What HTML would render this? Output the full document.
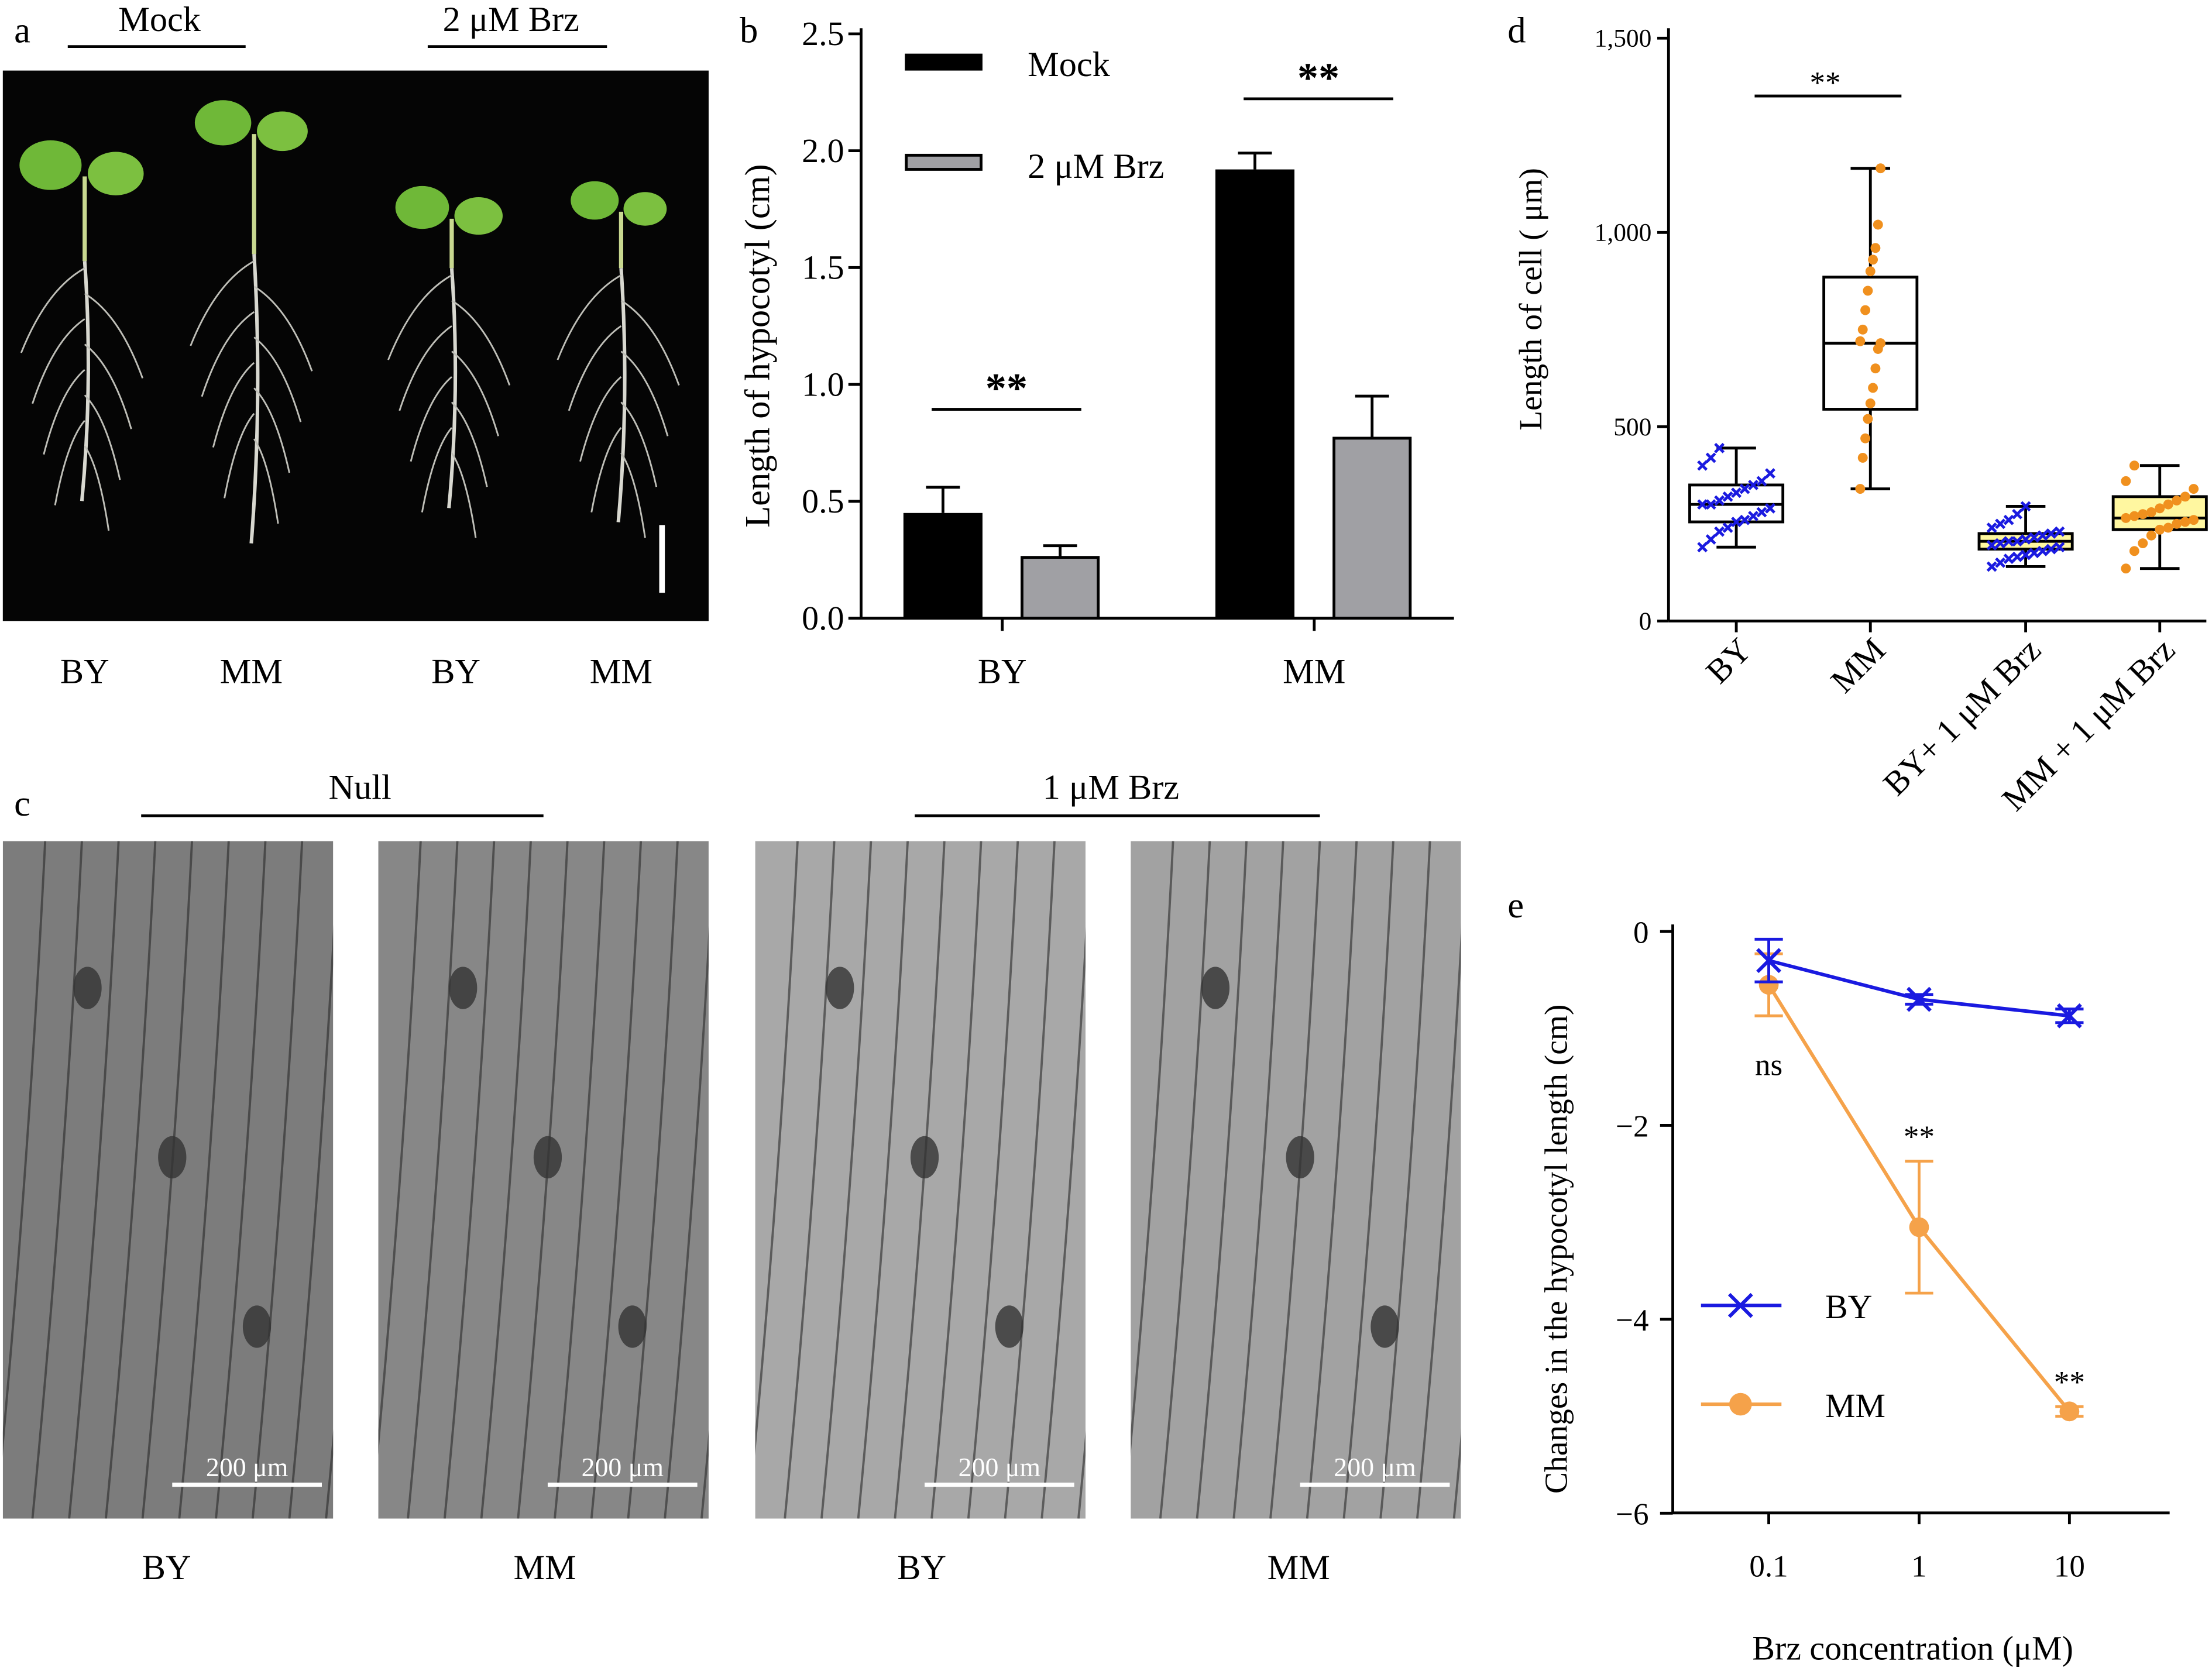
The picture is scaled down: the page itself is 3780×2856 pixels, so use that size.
<!DOCTYPE html>
<html><head><meta charset="utf-8">
<style>
html,body{margin:0;padding:0;background:#fff;}
svg{display:block;font-family:"Liberation Serif",serif;}
text{font-family:"Liberation Serif",serif;fill:#000;}
</style></head>
<body>
<svg id="fig" width="3780" height="2856" viewBox="0 0 1567 1184" preserveAspectRatio="none" font-family="Liberation Serif, serif" xmlns="http://www.w3.org/2000/svg">
<defs>
<clipPath id="c0"><rect x="2" y="596" width="234" height="480"/></clipPath>
<clipPath id="c1"><rect x="268" y="596" width="234" height="480"/></clipPath>
<clipPath id="c2"><rect x="535" y="596" width="234" height="480"/></clipPath>
<clipPath id="c3"><rect x="801" y="596" width="234" height="480"/></clipPath>
</defs>
<rect width="1567" height="1184" fill="#fff"/>
<g>
<text x="10" y="30" font-size="26">a</text>
<text x="113" y="22" font-size="25" text-anchor="middle">Mock</text>
<line x1="48" y1="33" x2="174" y2="33" stroke="#000" stroke-width="2"/>
<text x="362" y="22" font-size="25" text-anchor="middle">2 μM Brz</text>
<line x1="303" y1="33" x2="430" y2="33" stroke="#000" stroke-width="2"/>
<rect x="2" y="50" width="500" height="390" fill="#050505"/>
<g id="plants"></g>
<line x1="469" y1="372" x2="469" y2="420" stroke="#fff" stroke-width="4"/>
<text x="60" y="484" font-size="25" text-anchor="middle">BY</text>
<text x="178" y="484" font-size="25" text-anchor="middle">MM</text>
<text x="323" y="484" font-size="25" text-anchor="middle">BY</text>
<text x="440" y="484" font-size="25" text-anchor="middle">MM</text>
</g>
<g id="panelB">
<text x="524" y="30" font-size="26">b</text>
<text transform="translate(545,245) rotate(-90)" font-size="25" text-anchor="middle">Length of hypocotyl (cm)</text>
</g>
<g>
<text x="10" y="578" font-size="26">c</text>
<text x="255" y="566" font-size="25" text-anchor="middle">Null</text>
<line x1="100" y1="578" x2="385" y2="578" stroke="#000" stroke-width="2"/>
<text x="787" y="566" font-size="25" text-anchor="middle">1 μM Brz</text>
<line x1="648" y1="578" x2="935" y2="578" stroke="#000" stroke-width="2"/>
<g id="micro"></g>
<text x="118" y="1119" font-size="25" text-anchor="middle">BY</text>
<text x="386" y="1119" font-size="25" text-anchor="middle">MM</text>
<text x="653" y="1119" font-size="25" text-anchor="middle">BY</text>
<text x="920" y="1119" font-size="25" text-anchor="middle">MM</text>
</g>
<g id="panelD">
<text x="1068" y="30" font-size="26">d</text>
<text transform="translate(1092,212) rotate(-90)" font-size="23" text-anchor="middle">Length of cell ( μm)</text>
</g>
<g id="panelE">
<text x="1068" y="650" font-size="26">e</text>
<text transform="translate(1110,885) rotate(-90)" font-size="23" text-anchor="middle">Changes in the hypocotyl length (cm)</text>
<text x="1355" y="1176" font-size="24" text-anchor="middle">Brz concentration (μM)</text>
</g>
</svg>
<script>
const NS="http://www.w3.org/2000/svg";
function mk(parent,tag,attrs,txt){const e=document.createElementNS(NS,tag);for(const k in attrs)e.setAttribute(k,attrs[k]);if(txt!==undefined)e.textContent=txt;parent.appendChild(e);return e;}

const bGroups=["BY","MM"];
const bMock=[0.45,1.92];
const bMockErr=[0.11,0.07];
const bBrz=[0.26,0.77];
const bBrzErr=[0.05,0.18];
const bTicks=["0.0","0.5","1.0","1.5","2.0","2.5"];
const dCats=["BY","MM","BY+ 1 μM Brz","MM + 1 μM Brz"];
const dMin=[190,340,140,135];
const dQ1=[255,545,185,235];
const dMed=[300,715,205,265];
const dQ3=[350,885,225,320];
const dMax=[445,1165,295,400];
const dPoints=[
 [190,210,230,240,255,260,270,280,290,300,300,310,320,330,340,350,360,380,400,420,445],
 [340,420,470,520,560,600,650,700,715,720,750,800,850,900,930,960,1020,1165],
 [140,150,160,165,170,175,180,185,190,195,200,205,205,210,215,220,225,230,240,250,260,275,295],
 [135,180,200,220,235,240,250,255,260,265,270,275,280,290,300,310,320,340,360,400]
];
const dTicks=["0","500","1,000","1,500"];
const dTickVals=[0,500,1000,1500];
const eConc=[0.1,1,10];
const eBY=[-0.3,-0.7,-0.87];
const eBYErr=[0.22,0.05,0.07];
const eMM=[-0.55,-3.05,-4.95];
const eMMErr=[0.32,0.68,0.05];
const eTickVals=[0,-2,-4,-6];
const eSig=["ns","**","**"];

(function(){
 const g=document.getElementById('panelB');
 const y=v=>438-v*165.6;
 mk(g,'line',{x1:610,y1:20,x2:610,y2:438,stroke:'#000','stroke-width':2});
 mk(g,'line',{x1:610,y1:438,x2:1030,y2:438,stroke:'#000','stroke-width':2});
 bTicks.forEach((t)=>{const v=parseFloat(t);mk(g,'line',{x1:601,y1:y(v),x2:610,y2:y(v),stroke:'#000','stroke-width':2});
  mk(g,'text',{x:598,y:y(v)+8,'font-size':24,'text-anchor':'end'},t);});
 const cx=[710,931];
 bGroups.forEach((c,i)=>{
  const x0=cx[i];
  mk(g,'line',{x1:x0,y1:438,x2:x0,y2:447,stroke:'#000','stroke-width':2});
  mk(g,'text',{x:x0,y:484,'font-size':25,'text-anchor':'middle'},c);
  const m=mk(g,'rect',{x:x0-70,y:y(bMock[i]),width:56,height:438-y(bMock[i]),fill:'#000'});
  
  
  mk(g,'line',{x1:x0-42,y1:y(bMock[i]+bMockErr[i]),x2:x0-42,y2:y(bMock[i]),stroke:'#000','stroke-width':2});
  mk(g,'line',{x1:x0-54,y1:y(bMock[i]+bMockErr[i]),x2:x0-30,y2:y(bMock[i]+bMockErr[i]),stroke:'#000','stroke-width':2});
  const b=mk(g,'rect',{x:x0+14,y:y(bBrz[i]),width:54,height:438-y(bBrz[i]),fill:'#a0a0a4',stroke:'#000','stroke-width':2});
  
  
  mk(g,'line',{x1:x0+41,y1:y(bBrz[i]+bBrzErr[i]),x2:x0+41,y2:y(bBrz[i]),stroke:'#000','stroke-width':2});
  mk(g,'line',{x1:x0+29,y1:y(bBrz[i]+bBrzErr[i]),x2:x0+53,y2:y(bBrz[i]+bBrzErr[i]),stroke:'#000','stroke-width':2});
  const top=i===0?290:70;
  mk(g,'line',{x1:x0-50,y1:top,x2:x0+56,y2:top,stroke:'#000','stroke-width':2});
  mk(g,'text',{x:x0+3,y:top-5,'font-size':30,'text-anchor':'middle','font-weight':'bold'},'**');
 });
 const l1=mk(g,'rect',{x:641,y:38,width:55,height:12,fill:'#000'});
 
 
 mk(g,'text',{x:728,y:54,'font-size':25},'Mock');
 const l2=mk(g,'rect',{x:642,y:110,width:53,height:10,fill:'#a0a0a4',stroke:'#000','stroke-width':2});
 
 
 mk(g,'text',{x:728,y:126,'font-size':25},'2 μM Brz');
})();

(function(){
 const g=document.getElementById('panelD');
 const y=v=>440-v*0.2753;
 mk(g,'line',{x1:1182,y1:20,x2:1182,y2:440,stroke:'#000','stroke-width':2});
 mk(g,'line',{x1:1182,y1:440,x2:1563,y2:440,stroke:'#000','stroke-width':2});
 dTickVals.forEach((v,i)=>{mk(g,'line',{x1:1174,y1:y(v),x2:1182,y2:y(v),stroke:'#000','stroke-width':2});
  mk(g,'text',{x:1170,y:y(v)+6,'font-size':18,'text-anchor':'end'},dTicks[i]);});
 const cx=[1230,1325,1435,1530];
 const col=['#1a1ae0','#f0901e','#1a1ae0','#f0901e'];
 const fill=['#fff','#fff','#fff7a0','#fff7a0'];
 dCats.forEach((c,i)=>{
  const x=cx[i];
  mk(g,'line',{x1:x,y1:440,x2:x,y2:448,stroke:'#000','stroke-width':2});
  mk(g,'text',{transform:`translate(${x+12},${462}) rotate(-45)`,'font-size':24,'text-anchor':'end'},c);
  mk(g,'line',{x1:x,y1:y(dMax[i]),x2:x,y2:y(dMin[i]),stroke:'#000','stroke-width':2});
  mk(g,'line',{x1:x-14,y1:y(dMax[i]),x2:x+14,y2:y(dMax[i]),stroke:'#000','stroke-width':2});
  mk(g,'line',{x1:x-14,y1:y(dMin[i]),x2:x+14,y2:y(dMin[i]),stroke:'#000','stroke-width':2});
  const bx=mk(g,'rect',{x:x-33,y:y(dQ3[i]),width:66,height:y(dQ1[i])-y(dQ3[i]),fill:fill[i],stroke:'#000','stroke-width':2});
  
  
  mk(g,'line',{x1:x-33,y1:y(dMed[i]),x2:x+33,y2:y(dMed[i]),stroke:'#000','stroke-width':2});
  dPoints[i].forEach((v,j)=>{
   const off=((j*37)%9-4)*6;
   if(i%2===0){
    const px=x+off,py=y(v);
    const p=mk(g,'path',{d:`M${px-3},${py-3}L${px+3},${py+3}M${px-3},${py+3}L${px+3},${py-3}`,stroke:col[i],'stroke-width':2});
    
    
   } else {
    const p=mk(g,'circle',{cx:x+(i===1?off*0.3:off),cy:y(v),r:3.5,fill:col[i]});
    
    
   }
  });
 });
 mk(g,'line',{x1:1243,y1:68,x2:1347,y2:68,stroke:'#000','stroke-width':2});
 mk(g,'text',{x:1293,y:66,'font-size':22,'text-anchor':'middle'},'**');
})();

(function(){
 const g=document.getElementById('panelE');
 const y=v=>660-v*68.7;
 const x=c=>1253+Math.log10(c/0.1)*106.5;
 mk(g,'line',{x1:1185,y1:655,x2:1185,y2:1072,stroke:'#000','stroke-width':2});
 mk(g,'line',{x1:1185,y1:1072,x2:1537,y2:1072,stroke:'#000','stroke-width':2});
 eTickVals.forEach(v=>{mk(g,'line',{x1:1176,y1:y(v),x2:1185,y2:y(v),stroke:'#000','stroke-width':2});
  mk(g,'text',{x:1168,y:y(v)+8,'font-size':22,'text-anchor':'end'},v===0?'0':'\u2212'+Math.abs(v));});
 eConc.forEach(c=>{mk(g,'line',{x1:x(c),y1:1072,x2:x(c),y2:1080,stroke:'#000','stroke-width':2});
  mk(g,'text',{x:x(c),y:1117,'font-size':22,'text-anchor':'middle'},String(c));});
 function series(vals,errs,color,marker,name){
  const pts=vals.map((v,i)=>[x(eConc[i]),y(v)]);
  const l=mk(g,'polyline',{points:pts.map(p=>p.join(',')).join(' '),fill:'none',stroke:color,'stroke-width':2.5});
  
  
  vals.forEach((v,i)=>{
   const px=pts[i][0];
   const a=y(v+errs[i]),b=y(v-errs[i]);
   mk(g,'line',{x1:px,y1:a,x2:px,y2:b,stroke:color,'stroke-width':2});
   mk(g,'line',{x1:px-10,y1:a,x2:px+10,y2:a,stroke:color,'stroke-width':2});
   mk(g,'line',{x1:px-10,y1:b,x2:px+10,y2:b,stroke:color,'stroke-width':2});
   let m;
   if(marker==='x'){m=mk(g,'path',{d:`M${px-8},${pts[i][1]-8}L${px+8},${pts[i][1]+8}M${px-8},${pts[i][1]+8}L${px+8},${pts[i][1]-8}`,stroke:color,'stroke-width':2.5});}
   else {m=mk(g,'circle',{cx:px,cy:pts[i][1],r:7,fill:color});}
   
   
  });
 }
 series(eMM,eMMErr,'#f5a24a','o','MM');
 series(eBY,eBYErr,'#1a1ae0','x','BY');
 eSig.forEach((s,i)=>{
  const px=x(eConc[i]);
  const py=i===0?y(eMM[0]-eMMErr[0])+42:y(eMM[i]+eMMErr[i])-10;
  mk(g,'text',{x:px,y:py,'font-size':22,'text-anchor':'middle'},s);
 });
 mk(g,'line',{x1:1205,y1:925,x2:1262,y2:925,stroke:'#1a1ae0','stroke-width':2.5});
 mk(g,'path',{d:'M1225,917L1241,933M1225,933L1241,917',stroke:'#1a1ae0','stroke-width':2.5});
 mk(g,'text',{x:1293,y:934,'font-size':24},'BY');
 mk(g,'line',{x1:1205,y1:995,x2:1262,y2:995,stroke:'#f5a24a','stroke-width':2.5});
 mk(g,'circle',{cx:1233,cy:995,r:8,fill:'#f5a24a'});
 mk(g,'text',{x:1293,y:1004,'font-size':24},'MM');
})();

(function(){
 const g=document.getElementById('plants');
 const P=[[60,125,185,355,44],[180,95,180,385,40],[320,155,190,360,38],[440,150,190,370,34]];
 P.forEach(([cx,leafY,stemEnd,rootEnd,w])=>{
  mk(g,'line',{x1:cx,y1:leafY,x2:cx,y2:stemEnd,stroke:'#c8d890','stroke-width':3});
  mk(g,'ellipse',{cx:cx-w*0.55,cy:leafY-8,rx:w*0.5,ry:w*0.4,fill:'#6fb838'});
  mk(g,'ellipse',{cx:cx+w*0.5,cy:leafY-2,rx:w*0.45,ry:w*0.35,fill:'#7cc040'});
  mk(g,'path',{d:`M${cx},${stemEnd} Q${cx+6},${(stemEnd+rootEnd)/2} ${cx-2},${rootEnd}`,stroke:'#d8d8d0','stroke-width':2.5,fill:'none'});
  for(let k=0;k<8;k++){const yy=stemEnd+5+k*18,s=k%2?1:-1,len=45-k*4;
   mk(g,'path',{d:`M${cx},${yy} Q${cx+s*len*0.6},${yy+15} ${cx+s*len},${yy+60}`,stroke:'#bfbfb8','stroke-width':1.2,fill:'none'});}
 });
})();

(function(){
 const g=document.getElementById('micro');
 const xs=[2,268,535,801],fills=['#7c7c7c','#878787','#a8a8a8','#a2a2a2'];
 xs.forEach((x0,i)=>{
  const gg=mk(g,'g',{'clip-path':`url(#c${i})`});
  const im=mk(gg,'rect',{x:x0,y:596,width:234,height:480,fill:fills[i]});
  
  
  for(let k=0;k<10;k++){const xx=x0+10+k*26;
   mk(gg,'path',{d:`M${xx+20},596 Q${xx+8},836 ${xx-15},1076`,stroke:'#2a2a2a','stroke-width':1.6,fill:'none',opacity:0.6});}
  for(let k=0;k<3;k++){mk(gg,'ellipse',{cx:x0+60+k*60,cy:700+k*120,rx:10,ry:15,fill:'#333',opacity:0.8});}
  mk(gg,'line',{x1:x0+120,y1:1052,x2:x0+226,y2:1052,stroke:'#fff','stroke-width':3});
  const t=mk(gg,'text',{x:x0+173,y:1046,'font-size':19,'text-anchor':'middle'},'200 μm');
  t.style.fill='#fff';
 });
})();
</script>
</body></html>
